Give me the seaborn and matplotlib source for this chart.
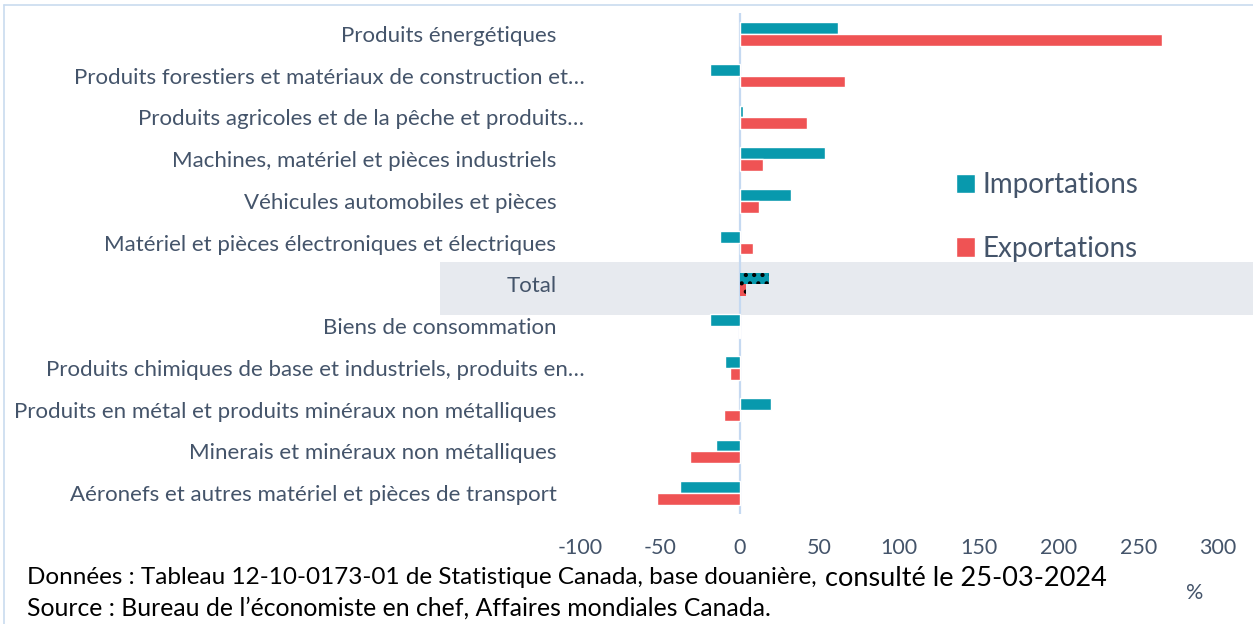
import pandas as pd
import matplotlib
matplotlib.use("Agg")
import matplotlib.pyplot as plt
import matplotlib.transforms as mtransforms
from matplotlib.patches import Rectangle
import seaborn as sns

# catégories, de haut en bas
categories = [
    "Produits énergétiques",
    "Produits forestiers et matériaux de construction et…",
    "Produits agricoles et de la pêche et produits…",
    "Machines, matériel et pièces industriels",
    "Véhicules automobiles et pièces",
    "Matériel et pièces électroniques et électriques",
    "Total",
    "Biens de consommation",
    "Produits chimiques de base et industriels, produits en…",
    "Produits en métal et produits minéraux non métalliques",
    "Minerais et minéraux non métalliques",
    "Aéronefs et autres matériel et pièces de transport",
]
importations = [62, -18.5, 2.5, 53.5, 32.5, -12, 18.5, -18.5, -9, 19.5, -15, -37.5]
exportations = [265, 66, 42.5, 14.5, 12.5, 8.5, 4, -0.5, -6, -9.5, -31, -52]
series = ["Importations", "Exportations"]
xticks = [-100, -50, 0, 50, 100, 150, 200, 250, 300]

teal = "#0899AD"
red = "#EF5354"
slate = "#44546A"

df = pd.DataFrame({
    "Catégorie": categories * 2,
    "Valeur": importations + exportations,
    "Série": [series[0]] * len(categories) + [series[1]] * len(categories),
})

sns.set_theme(style="white")
plt.rcParams["font.family"] = ["Lato", "DejaVu Sans"]
plt.rcParams["hatch.linewidth"] = 1.8

W, H = 1253, 624
fig = plt.figure(figsize=(W / 100, H / 100), dpi=100)
ax = fig.add_axes([580 / W, 1 - 514 / H, (1218 - 580) / W, (514 - 13) / H])
ax.patch.set_alpha(0)

# bande grise derrière "Total"
fig.patches.append(Rectangle((440 / W, 1 - 315 / H), (W - 440) / W, 53 / H,
                             transform=fig.transFigure, facecolor="#E7EAEF",
                             edgecolor="none", zorder=-5))
# cadre du graphique
fig.add_artist(plt.Line2D([4 / W, 4 / W], [0, 1 - 5 / H], transform=fig.transFigure,
                          color="#C9DCEF", lw=1.2))
fig.add_artist(plt.Line2D([4 / W, 1], [1 - 5 / H, 1 - 5 / H], transform=fig.transFigure,
                          color="#C9DCEF", lw=1.2))

sns.barplot(data=df, x="Valeur", y="Catégorie", hue="Série", orient="h",
            palette=[teal, red], saturation=1, width=0.56, ax=ax, legend=True)

ax.axvline(0, color="#C5D9F1", lw=1.6, zorder=0.5)

# motif pointillé pour Total
idx_total = categories.index("Total")
for cont in ax.containers:
    bar = cont[idx_total]
    bar.set_hatch("..")
    bar.set_edgecolor("black")
    bar.set_linewidth(0)

ax.set_xlim(-100, 300)
ax.set_ylim(len(categories) - 0.5, -0.5)
ax.set_xticks(xticks)
ax.set_xticklabels([str(v) for v in xticks])
ax.set_xlabel("")
ax.set_ylabel("")
for s in ax.spines.values():
    s.set_visible(False)
ax.tick_params(axis="x", length=0, pad=17.5, labelsize=15.5, labelcolor=slate)
ax.tick_params(axis="y", length=0, pad=17, labelsize=16, labelcolor=slate)

shift = mtransforms.ScaledTranslation(0.28, 0, fig.dpi_scale_trans)
for lab in ax.get_yticklabels():
    if lab.get_text().endswith("…"):
        lab.set_transform(lab.get_transform() + shift)

handles, labels = ax.get_legend_handles_labels()
ax.legend(handles, labels, loc="center left",
          bbox_to_anchor=(942 / W, 1 - 217 / H), bbox_transform=fig.transFigure,
          frameon=False, fontsize=20, labelcolor=slate,
          handlelength=0.7, handleheight=0.7, handletextpad=0.25,
          labelspacing=1.35, borderpad=0)

# notes de bas de page
fig.text(27 / W, 1 - 578 / H,
         "Données : Tableau 12-10-0173-01 de Statistique Canada, base douanière,",
         fontsize=17.5, color="black", va="center", ha="left")
fig.text(825 / W, 1 - 578 / H, "consulté le 25-03-2024",
         fontsize=19.5, color="black", va="center", ha="left")
fig.text(27 / W, 1 - 608 / H,
         "Source : Bureau de l’économiste en chef, Affaires mondiales Canada.",
         fontsize=17.8, color="black", va="center", ha="left")
fig.text(1195 / W, 1 - 593 / H, "%", fontsize=15.5, color=slate,
         va="center", ha="center")

fig.savefig("out.png", dpi=100)
